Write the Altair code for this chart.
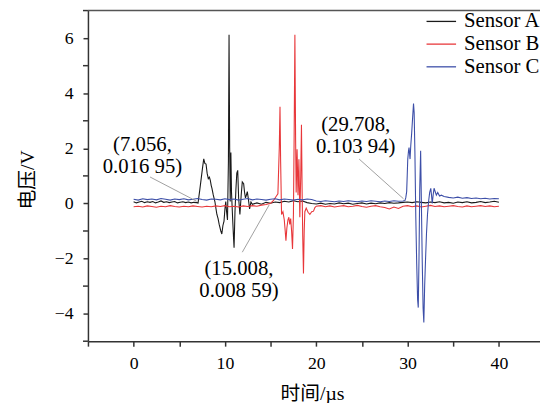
import altair as alt
import pandas as pd

# ---------------- data ----------------
series_names = ["Sensor A", "Sensor B", "Sensor C"]
series_colors = ["#1a1a1a", "#e8373a", "#3d4fa8"]

a_t = [0, 0.3, 0.6, 0.9, 1.2, 1.5, 1.8, 2.1, 2.4, 2.7, 3.0, 3.3, 3.6, 3.9, 4.2, 4.5, 4.8, 5.1, 5.4, 5.7,
       6.0, 6.3, 6.6, 6.9, 7.056,
       7.25, 7.4, 7.55, 7.68, 7.8, 7.93, 8.05, 8.18, 8.3, 8.4,
       8.5, 8.58, 8.72, 8.9, 9.0, 9.12, 9.25, 9.37, 9.55, 9.66,
       9.78, 9.9, 10.0, 10.09, 10.18, 10.28, 10.38, 10.45, 10.52, 10.58,
       10.65, 10.72, 10.85, 10.95, 11.0, 11.1, 11.2, 11.3, 11.4, 11.5,
       11.64, 11.78, 11.9, 12.05, 12.15, 12.25, 12.35, 12.45, 12.55, 12.7,
       12.85, 13.0,
       13.5, 14.0, 14.5, 15.0, 15.5, 16.0, 16.5, 17.0, 17.5, 18.0, 18.5, 19.0, 19.5, 20.0,
       20.5, 21.0, 21.5, 22.0, 22.5, 23.0, 23.5, 24.0, 24.5, 25.0, 25.5, 26.0, 26.5, 27.0,
       27.5, 28.0, 28.5, 29.0, 29.5, 30.0, 30.5, 31.0, 31.5, 32.0, 32.5, 33.0, 33.5, 34.0,
       34.5, 35.0, 35.5, 36.0, 36.5, 37.0, 37.5, 38.0, 38.5, 39.0, 39.5, 40.0]
a_v = [0.06, 0.02, 0.05, 0.08, 0.03, 0.06, 0.04, 0.07, 0.02, 0.05, 0.09, 0.04, 0.06, 0.03, 0.05, 0.07, 0.02, 0.04, 0.06, 0.03,
       0.05, 0.02, 0.04, 0.03, 0.017,
       0.5, 0.9, 1.3, 1.62, 1.45, 1.43, 1.1, 0.9, 0.95, 0.84,
       0.65, 0.55, 0.31, 0.07, -0.15, -0.4, -0.55, -0.76, -1.0, -1.11,
       -0.8, -0.64, -0.2, 0.07, -0.3, -0.6, 1.5, 6.12, 2.0, 0.07,
       1.85, 0.4, -0.6, -1.3, -1.61, -0.3, 0.5, 1.1, 1.2, 0.2,
       -0.4, 0.3, 0.78, 0.72, 0.4, 0.2, 0.3, 0.43, 0.2, -0.2,
       0.05, -0.03,
       0.02, -0.03, 0.04, 0.01, 0.05, 0.03, 0.08, 0.05, 0.1, 0.06, 0.09, 0.03, 0.0, -0.02,
       0.01, -0.03, 0.0, -0.02, 0.02, -0.01, 0.01, -0.03, 0.0, 0.02, -0.02, 0.01, -0.01, 0.02,
       0.0, 0.03, 0.01, 0.02, 0.04, 0.05, 0.03, 0.06, 0.04, 0.02, 0.05, 0.03, 0.06, 0.02,
       0.04, 0.01, 0.05, 0.03, 0.06, 0.02, 0.04, 0.07, 0.03, 0.05, 0.08, 0.04]

b_t = [0, 0.5, 1.0, 1.5, 2.0, 2.5, 3.0, 3.5, 4.0, 4.5, 5.0, 5.5, 6.0, 6.5, 7.0, 7.5, 8.0, 8.5, 9.0, 9.5,
       10.0, 10.5, 11.0, 11.5, 12.0, 12.5, 13.0, 13.5, 14.0, 14.5, 15.008,
       15.3, 15.6, 15.8, 15.95, 16.03, 16.1, 16.2, 16.35, 16.5, 16.6,
       16.68, 16.78, 16.9, 17.0, 17.1, 17.2, 17.3, 17.4, 17.5, 17.58,
       17.66, 17.74, 17.8, 17.9, 18.0, 18.1, 18.2, 18.3, 18.38, 18.45,
       18.52, 18.6, 18.68, 18.75, 18.9, 19.1, 19.3, 19.5, 19.7, 19.85,
       20.0, 20.5, 21.0, 21.5, 22.0, 22.5, 23.0, 23.5, 24.0, 24.5, 25.0, 25.5, 26.0, 26.5,
       27.0, 27.5, 28.0, 28.5, 29.0, 29.5, 30.0, 30.5, 31.0, 31.5, 32.0, 32.5, 33.0, 33.5,
       34.0, 34.5, 35.0, 35.5, 36.0, 36.5, 37.0, 37.5, 38.0, 38.5, 39.0, 39.5, 40.0]
b_v = [-0.12, -0.1, -0.13, -0.09, -0.11, -0.14, -0.1, -0.12, -0.08, -0.11, -0.13, -0.1, -0.12, -0.09, -0.11, -0.13, -0.1, -0.12, -0.09, -0.11,
       -0.08, -0.12, -0.1, -0.13, -0.09, -0.11, -0.08, -0.1, -0.06, -0.04, 0.0086,
       0.1, 0.25, 0.35, 2.0, 3.51, 1.5, -0.4, -0.3, -0.6, -1.0,
       -1.35, -0.9, -0.6, -0.5, -0.76, -0.55, -1.0, -1.65, -0.4, 2.5,
       6.12, 2.3, 0.4, 1.97, 0.3, 1.6, -0.5, 1.0, 2.86, 0.5,
       -1.2, -2.54, -1.0, -0.3, -0.17, -0.32, -0.4, -0.3, -0.28, -0.15,
       -0.1, -0.08, -0.12, -0.09, -0.13, -0.1, -0.08, -0.12, -0.1, -0.07, -0.11, -0.14, -0.1, -0.08,
       -0.12, -0.15, -0.2, -0.13, -0.18, -0.1, -0.08, -0.12, -0.09, -0.13, -0.1, -0.07, -0.11, -0.09,
       -0.12, -0.1, -0.08, -0.11, -0.13, -0.09, -0.12, -0.1, -0.08, -0.11, -0.09, -0.12, -0.1]

c_t = [0, 0.5, 1.0, 1.5, 2.0, 2.5, 3.0, 3.5, 4.0, 4.5, 5.0, 5.5, 6.0, 6.5, 7.0, 7.5, 8.0, 8.5, 9.0, 9.5,
       10.0, 10.5, 11.0, 11.5, 12.0, 12.5, 13.0, 13.5, 14.0, 14.5, 15.0, 15.5, 16.0, 16.5, 17.0, 17.5, 18.0, 18.5, 19.0, 19.5,
       20.0, 20.5, 21.0, 21.5, 22.0, 22.5, 23.0, 23.5, 24.0, 24.5, 25.0, 25.5, 26.0, 26.5, 27.0, 27.5, 28.0, 28.5, 29.0, 29.5,
       29.708,
       29.8, 29.9, 29.96, 30.02, 30.1, 30.16, 30.22, 30.27, 30.35, 30.45,
       30.55, 30.65, 30.72, 30.8, 30.9, 31.0, 31.1, 31.17, 31.25, 31.33,
       31.43, 31.5, 31.6, 31.7, 31.78, 31.87, 31.97, 32.07, 32.18, 32.3,
       32.42, 32.54, 32.62, 32.7, 32.8, 32.9, 33.0, 33.15, 33.3, 33.5, 33.7,
       34.0, 34.5, 35.0, 35.5, 36.0, 36.5, 37.0, 37.5, 38.0, 38.5, 39.0, 39.5, 40.0]
c_v = [0.15, 0.12, 0.17, 0.14, 0.16, 0.13, 0.18, 0.15, 0.12, 0.16, 0.14, 0.17, 0.13, 0.15, 0.18, 0.14, 0.12, 0.16, 0.15, 0.13,
       0.17, 0.14, 0.16, 0.12, 0.15, 0.18, 0.13, 0.16, 0.14, 0.12, 0.15, 0.17, 0.13, 0.16, 0.14, 0.12, 0.15, 0.13, 0.16, 0.14,
       0.09, 0.07, 0.1, 0.08, 0.06, 0.09, 0.07, 0.1, 0.08, 0.06, 0.09, 0.07, 0.1, 0.08, 0.06, 0.09, 0.07, 0.1, 0.08, 0.09,
       0.104,
       0.2, 0.43, 1.0, 1.61, 1.9, 2.03, 1.8, 1.61, 2.1, 2.56,
       3.1, 3.63, 3.3, 1.9, -0.5, -2.2, -3.5, -3.78, -2.0, 0.5,
       1.91, 0.3, -2.0, -3.8, -4.32, -3.0, -2.0, -1.1, -0.4, 0.07,
       0.4, 0.55, 0.3, 0.0, 0.3, 0.55, 0.45, 0.3, 0.4, 0.27, 0.3,
       0.25, 0.22, 0.2, 0.23, 0.19, 0.21, 0.18, 0.2, 0.17, 0.19, 0.16, 0.18, 0.17]

# annotations: label text, first-line anchor, leader line start and end (data units)
ann_text = ["(7.056,\n0.016 95)", "(15.008,\n0.008 59)", "(29.708,\n0.103 94)"]
ann_x = [0.97, 11.54, 24.32]
ann_y = [2.12, -2.38, 2.84]
lead_x1 = [1.8, 11.9, 24.7]
lead_y1 = [0.96, -1.77, 1.61]
lead_x2 = [6.9, 14.85, 29.55]
lead_y2 = [0.08, -0.05, 0.17]

x_ticks = [-5, 0, 5, 10, 15, 20, 25, 30, 35, 40]
y_major = [-4, -2, 0, 2, 4, 6]
y_minor = [-5, -3, -1, 1, 3, 5, 7]

X_TITLE = "时间/µs"
Y_TITLE = "电压/V"

# ---------------- tables ----------------
rows = []
for name, ts, vs in zip(series_names, [a_t, b_t, c_t], [a_v, b_v, c_v]):
    assert len(ts) == len(vs), name
    for i, (t, v) in enumerate(zip(ts, vs)):
        rows.append({"sensor": name, "t": t, "v": v, "idx": i})
df = pd.DataFrame(rows)

ann_df = pd.DataFrame({"text": ann_text, "x": ann_x, "y": ann_y})
lead_df = pd.DataFrame({"x": lead_x1, "y": lead_y1, "x2": lead_x2, "y2": lead_y2})
minor_df = pd.DataFrame({"m": y_minor})

W, H = 458, 335
SERIF = "Liberation Serif, Times New Roman, serif"
CJK = "Liberation Serif, Times New Roman, Noto Sans CJK SC, serif"

x_scale = alt.Scale(domain=[-5, 44.5], nice=False, zero=False)
y_scale = alt.Scale(domain=[-5, 7], nice=False, zero=False)

x_axis = alt.Axis(
    values=x_ticks, grid=False,
    labelExpr="datum.value % 10 === 0 ? datum.label : ''",
    tickSize=5,
    labelOverlap=False, labelFlush=False,
    domainColor="#333", domainWidth=1.5, tickColor="#333", tickWidth=1.5,
    labelFont=SERIF, labelFontSize=18, labelColor="black", labelPadding=9,
    titleFont=CJK, titleFontSize=20, titleFontWeight="normal", titleColor="black",
    titleX=227, titleY=53, titleBaseline="middle",
)
y_axis = alt.Axis(
    values=y_major, grid=False,
    tickSize=5,
    labelOverlap=False, labelFlush=False,
    domainColor="#333", domainWidth=1.5, tickColor="#333", tickWidth=1.5,
    labelFont=SERIF, labelFontSize=18, labelColor="black", labelPadding=10,
    titleFont=CJK, titleFontSize=20, titleFontWeight="normal", titleColor="black",
    titleX=-61, titleY=171, titleBaseline="middle",
)


def X(field):
    return alt.X(field, scale=x_scale, axis=x_axis, title=X_TITLE)


def Y(field):
    return alt.Y(field, scale=y_scale, axis=y_axis, title=Y_TITLE)


lines = alt.Chart(df).mark_line(strokeWidth=1.1, clip=True).encode(
    x=X("t:Q"),
    y=Y("v:Q"),
    color=alt.Color(
        "sensor:N",
        scale=alt.Scale(domain=series_names, range=series_colors),
        title=None,
        legend=alt.Legend(
            orient="none", legendX=346, legendY=-1,
            symbolType="M-1.36,0H1.36", symbolSize=484, symbolStrokeWidth=1.3,
            labelFont=SERIF, labelFontSize=21, labelColor="black", labelOffset=11,
            rowPadding=1, padding=0,
        ),
    ),
    order="idx:Q",
)

minor_ticks = alt.Chart(minor_df).mark_rule(color="#333", strokeWidth=1.5).encode(
    y=Y("m:Q"),
    x=alt.value(-5), x2=alt.value(0),
)

leaders = alt.Chart(lead_df).mark_rule(color="#888", strokeWidth=0.8).encode(
    x=X("x:Q"), y=Y("y:Q"),
    x2="x2:Q", y2="y2:Q",
)

labels = alt.Chart(ann_df).mark_text(
    font=SERIF, fontSize=21, lineBreak="\n", lineHeight=22,
    align="center", baseline="middle", color="black",
).encode(
    x=X("x:Q"), y=Y("y:Q"), text="text:N",
)

top_border = alt.Chart(pd.DataFrame({"k": [0]})).mark_rule(color="#555", strokeWidth=1.5).encode(
    x=alt.value(0), x2=alt.value(W), y=alt.value(0),
)

chart = alt.layer(lines, minor_ticks, leaders, labels, top_border).properties(
    width=W, height=H,
    autosize=alt.AutoSizeParams(type="none"),
    padding={"left": 81, "top": 0, "right": 0, "bottom": 60},
).configure_view(stroke=None)

chart.save("out.html", embed_options={"renderer": "svg", "actions": False})
